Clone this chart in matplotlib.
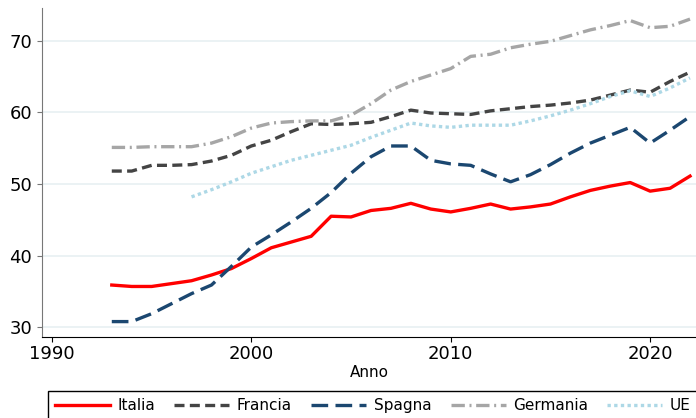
import numpy as np
import matplotlib
matplotlib.use('Agg')
import matplotlib.pyplot as plt

# Values
years = list(range(1993, 2023))
years_ue = list(range(1997, 2023))

italia = [35.9, 35.7, 35.7, 36.1, 36.5, 37.3, 38.2, 39.6, 41.1, 41.9,
          42.7, 45.5, 45.4, 46.3, 46.6, 47.3, 46.5, 46.1, 46.6, 47.2,
          46.5, 46.8, 47.2, 48.2, 49.1, 49.7, 50.2, 49.0, 49.4, 51.1]
francia = [51.8, 51.8, 52.6, 52.6, 52.7, 53.2, 54.0, 55.3, 56.1, 57.3,
           58.4, 58.3, 58.4, 58.6, 59.4, 60.3, 59.9, 59.8, 59.7, 60.2,
           60.5, 60.8, 61.0, 61.3, 61.7, 62.4, 63.1, 62.8, 64.3, 65.6]
spagna = [30.8, 30.8, 31.9, 33.3, 34.7, 35.9, 38.5, 41.2, 42.9, 44.7,
          46.6, 48.8, 51.5, 53.8, 55.3, 55.3, 53.3, 52.8, 52.6, 51.4,
          50.3, 51.3, 52.7, 54.3, 55.7, 56.8, 57.9, 55.7, 57.5, 59.4]
germania = [55.1, 55.1, 55.2, 55.2, 55.2, 55.7, 56.6, 57.8, 58.5, 58.7,
            58.8, 58.8, 59.6, 61.2, 63.1, 64.3, 65.2, 66.1, 67.8, 68.1,
            69.0, 69.5, 69.9, 70.7, 71.5, 72.1, 72.8, 71.8, 72.0, 73.0]
ue = [48.2, 49.2, 50.3, 51.5, 52.4, 53.3, 54.0, 54.7, 55.4, 56.5,
      57.5, 58.5, 58.1, 57.9, 58.2, 58.2, 58.2, 58.8, 59.5, 60.3,
      61.2, 62.2, 63.0, 62.2, 63.4, 64.8]

fig = plt.figure(figsize=(6.96, 4.18), dpi=100)
ax = fig.add_axes([42 / 696, 81 / 418, 1 - 42 / 696, 329 / 418])

lw = 2.4
ax.plot(years, italia, color='#ff0000', lw=lw, label='Italia')
ax.plot(years, francia, color='#444444', lw=lw, dashes=(3, 1.6), label='Francia')
ax.plot(years, spagna, color='#1b4770', lw=lw, dashes=(5, 2.2), label='Spagna')
ax.plot(years, germania, color='#a6a6a6', lw=lw, dashes=(4, 1.4, 0.6, 1.4), label='Germania')
ax.plot(years_ue, ue, color='#add8e6', lw=lw, dashes=(1, 1), label='UE')

ax.set_xlim(1989.5, 2022.3)
ax.set_ylim(28.65, 74.55)
ax.set_xticks([1990, 2000, 2010, 2020])
ax.set_yticks([30, 40, 50, 60, 70])
ax.tick_params(axis='both', labelsize=13)
ax.tick_params(axis='x', pad=2.5)
ax.tick_params(axis='y', color='#777777')
ax.grid(axis='y', color='#e8f0f2', lw=1.2)
ax.set_axisbelow(True)
ax.spines['top'].set_visible(False)
ax.spines['right'].set_visible(False)
ax.spines['left'].set_color('#777777')
ax.set_xlabel('Anno', fontsize=11, labelpad=1)

leg = fig.legend(loc='upper left', bbox_to_anchor=(48 / 696, 1 - 391 / 418),
                 bbox_transform=fig.transFigure, ncol=5, fontsize=11,
                 handlelength=3.6, columnspacing=1.25, handletextpad=0.5,
                 borderaxespad=0, frameon=True, fancybox=False, borderpad=0.45)
leg.get_frame().set_edgecolor('black')
leg.get_frame().set_alpha(1)

fig.savefig('out.png', dpi=100)
